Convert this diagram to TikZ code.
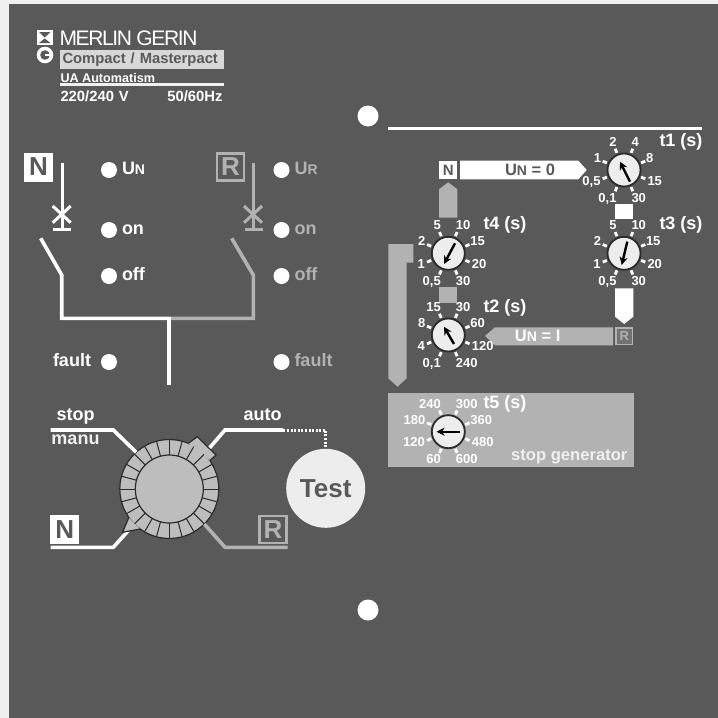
\documentclass[tikz,border=0pt]{standalone}
\usepackage{fontspec}
\setmainfont{Liberation Sans}
\newfontfamily\logofont[LetterSpace=-6.5]{Liberation Sans}
\usetikzlibrary{positioning,arrows.meta,calc}
\definecolor{panel}{HTML}{595959}
\definecolor{margin}{HTML}{F0F0F0}
\definecolor{pale}{HTML}{B2B2B2}
\definecolor{capgrey}{HTML}{BDBDBD}
\definecolor{knobface}{HTML}{EDEDED}
\definecolor{ink}{HTML}{2B2B2B}
\newcommand{\fsz}[1]{\fontsize{#1}{#1}\selectfont\bfseries}
\newcommand{\supply}[1]{U{\fontsize{14}{14}\selectfont #1}}
\tikzset{
    every node/.style={inner sep=0pt,outer sep=0pt,text=white,font=\fsz{13}},
    wire/.style={draw=white,line width=3.6pt},
    wiregrey/.style={draw=pale,line width=3.6pt},
    led/.style={circle,fill=white,minimum size=16pt},
    ledtext/.style={font=\fsz{18},text height=9.5pt,text depth=0pt},
    ledgrey/.style={ledtext,text=pale},
    nbox/.style={fill=white,text=panel,minimum size=29pt,font=\fsz{26}},
    rbox/.style={draw=pale,line width=2.6pt,text=pale,minimum size=27pt,font=\fsz{26}},
    title/.style={font=\fsz{18}},
    dialnum/.style={font=\fsz{13},text height=9pt,text depth=0pt},
    knob/.style={circle,draw=ink,line width=1.8pt,fill=knobface,minimum size=33pt},
    needle/.style={draw=black,line width=2.4pt,-{Stealth[length=8pt,width=8pt]}},
    tick/.style={draw=white,line width=2.8pt},
    flow/.style={fill=pale},
    flowwhite/.style={fill=white}
}
% knob: name, place, needle tail, needle tip
\newcommand{\knobat}[4]{
    \node[knob] (#1) at (#2) {};
    \foreach \a in {22.5,67.5,...,337.5}
        \draw[tick] ($(#1)+(\a:18.5)$) -- ($(#1)+(\a:23)$);
    \draw[needle] ($(#1)+(#3)$) -- ($(#1)+(#4)$);
}
% numbers round a knob, clockwise from upper left
\newcommand{\dialnums}[9]{
    \node[dialnum,anchor=east] (#1-a) at ($(#1)+(-7.5,-28)$) {#2};
    \node[dialnum,anchor=west] (#1-b) at ($(#1)+(7.5,-28)$) {#3};
    \node[dialnum,anchor=west] (#1-c) at ($(#1)+(22,-12)$) {#4};
    \node[dialnum,anchor=west] (#1-d) at ($(#1)+(23.5,10.5)$) {#5};
    \node[dialnum,anchor=west] (#1-e) at ($(#1)+(7.5,27.5)$) {#6};
    \node[dialnum,anchor=east] (#1-f) at ($(#1)+(-7.5,27.5)$) {#7};
    \node[dialnum,anchor=east] (#1-g) at ($(#1)+(-23.5,10.5)$) {#8};
    \node[dialnum,anchor=east] (#1-h) at ($(#1)+(-23,-12)$) {#9};
}
\begin{document}
\begin{tikzpicture}[x=1pt,y=-1pt]
\useasboundingbox (0,0) rectangle (718,718);
\fill[margin] (0,0) rectangle (718,718);
\fill[panel] (9,4) rectangle (718,718);

% maker's mark and heading
\fill[white] (36.5,30) rectangle (53,45);
\fill[panel] (39,32) -- (50.5,32) -- (44.7,37.5) -- cycle;
\fill[panel] (39,43) -- (50.5,43) -- (44.7,38.5) -- cycle;
\fill[white] (45,55) circle (8.3);
\fill[panel] (45,55) circle (4.8);
\fill[white] (45,53.8) rectangle (53,56.2);
\node[anchor=west,font={\logofont\fontsize{21}{21}\selectfont}] (maker) at (59.5,38) {MERLIN GERIN};
\node[anchor=west,fill=margin!90!black,text=panel,font=\fsz{14.8},minimum width=164pt,minimum height=19pt,text width=159pt,align=left] (range) at (60,59.5) {Compact / Masterpact};
\node[anchor=west,font=\fsz{12.6}] (model) at (60.5,77.5) {UA Automatism};
\draw[draw=margin,line width=2.4pt] (60,84.5) -- (224,84.5);
\node[anchor=west,font=\fsz{14.8}] (volts) at (60.5,96.5) {220/240\,\,V};
\node[anchor=east,font=\fsz{14.8}] (hertz) at (222.5,96.5) {50/60Hz};

% fixing holes and rule
\node[circle,fill=white,minimum size=21pt] (holetop) at (368,116) {};
\node[circle,fill=white,minimum size=21pt] (holebot) at (368,610) {};
\coordinate (ruleL) at (388,128);
\coordinate (ruleR) at (702,128);
\draw[draw=white,line width=3pt] (ruleL) -- (ruleR);

% source N
\node[nbox] (srcN) at (38.5,167) {N};
\coordinate (nfeed) at (62,163);
\coordinate (ncut) at (62,223);
\coordinate (nsw) at (40.7,238.3);
\coordinate (bus) at (169,318.3);
\coordinate (load) at (169,385);
\draw[wire,line width=3pt] (nfeed) -- (ncut);
\draw[wire,line width=3pt] (52.7,206) -- (70.7,222.7) (70.7,206) -- (52.7,222.7);
\draw[wire,line width=3pt] (53,229) -- (71,229) (ncut) -- (62,229);
% source R
\node[rbox] (srcR) at (230.5,167) {R};
\coordinate (rfeed) at (253.3,163);
\coordinate (rcut) at (253.3,223);
\coordinate (rsw) at (231.7,238.3);
\draw[wiregrey,line width=3pt] (rfeed) -- (rcut);
\draw[wiregrey,line width=3pt] (244,206) -- (262,222.7) (262,206) -- (244,222.7);
\draw[wiregrey,line width=3pt] (244.5,229) -- (262.5,229) (rcut) -- (253.3,229);
\draw[wiregrey] (rsw) -- (253.3,275) |- (bus);
\draw[wire] (nsw) -- (61.7,275) |- (bus);
\draw[wire] (bus) ++(0,-1.8) -- (load);

% indicator lamps
\node[led] (ledUN) at (109,170) {};
\node[led] (ledonN) at (109,230) {};
\node[led] (ledoffN) at (109,276) {};
\node[led] (ledfaultN) at (109,362) {};
\node[led] (ledUR) at (281.5,170) {};
\node[led] (ledonR) at (281.5,230) {};
\node[led] (ledoffR) at (281.5,276) {};
\node[led] (ledfaultR) at (281.5,362) {};
\node[ledtext,right=5pt of ledUN] (txtUN) {\supply{N}};
\node[ledtext,right=5pt of ledonN] (txtonN) {on};
\node[ledtext,right=5pt of ledoffN] (txtoffN) {off};
\node[ledtext,left=10pt of ledfaultN] (txtfaultN) {fault};
\node[ledgrey,right=5pt of ledUR] (txtUR) {\supply{R}};
\node[ledgrey,right=5pt of ledonR] (txtonR) {on};
\node[ledgrey,right=5pt of ledoffR] (txtoffR) {off};
\node[ledgrey,right=5pt of ledfaultR] (txtfaultR) {fault};

% selector switch
\node[circle,draw=ink,line width=1.2pt,fill=capgrey,minimum size=99pt] (selector) at (169.3,489) {};
\coordinate (stopL) at (50.7,430);
\coordinate (autoR) at (283.3,430);
\coordinate (manuL) at (50.7,547.3);
\coordinate (rearR) at (287.7,547.3);
\draw[wire] (stopL) -- (113.3,430) -- (selector.132);
\draw[wire] (manuL) -- (113.3,547.3) -- (selector.225);
\draw[wire] (autoR) -- (225,430) -- (selector.45);
\draw[wiregrey] (rearR) -- (225,547.3) -- (selector.-45);
\fill[capgrey] ($(selector)+(19,-45.7)$) -- ($(selector)+(28,-52.3)$) -- ($(selector)+(46.7,-34)$) -- ($(selector)+(40.5,-28.5)$) -- cycle;
\draw[ink,line width=1.2pt] ($(selector)+(19,-45.7)$) -- ($(selector)+(28,-52.3)$) -- ($(selector)+(46.7,-34)$) -- ($(selector)+(40.5,-28.5)$);
\fill[capgrey] ($(selector)+(-40.5,28.5)$) -- ($(selector)+(-46.7,43.3)$) -- ($(selector)+(-29.3,40)$) -- cycle;
\draw[ink,line width=1.2pt] ($(selector)+(-40.5,28.5)$) -- ($(selector)+(-46.7,43.3)$) -- ($(selector)+(-29.3,40)$);
\foreach \a in {0,15,...,345}
    \draw[ink,line width=1pt] ($(selector)+(\a:33)$) -- ($(selector)+(\a:49)$);
\node[circle,draw=ink,line width=1.2pt,fill=capgrey,minimum size=68pt] (selectorcap) at (selector) {};
\node[font=\fsz{18},text height=9.5pt,text depth=0pt] (stoplabel) at (75.5,415.5) {stop};
\node[font=\fsz{18},text=margin,text height=9.5pt,text depth=0pt] (manulabel) at (75.5,440) {manu};
\node[font=\fsz{18},text height=9.5pt,text depth=0pt] (autolabel) at (262.5,416) {auto};
\node[nbox] (modeN) at (64.7,529.5) {N};
\node[rbox] (modeR) at (273,529.5) {R};
\node[circle,fill=knobface,text=panel,minimum size=79pt,font=\fsz{26}] (test) at (325.7,488.3) {Test};
\draw[draw=white,line width=3pt,dash pattern=on 2pt off 1.6pt] (autoR) -- (325.7,430) -- (test.north);

% delay flow
\fill[flowwhite] (460,160.7) -- (578.3,160.7) -- (586.7,170) -- (578.3,179.3) -- (460,179.3) -- cycle;
\node[fill=white,text=panel,minimum size=18.5pt,font=\fsz{15}] (flowN) at (448.2,170) {N};
\node[text=panel,font=\fsz{16.5}] (flowUz) at (530,170) {\supply{N} = 0};
\fill[flow] (439,217.7) -- (439,189.3) -- (448.2,182.3) -- (457.3,189.3) -- (457.3,217.7) -- cycle;
\node[fill=white,minimum width=18.3pt,minimum height=15pt] (gapA) at (624.2,211.5) {};
\fill[flowwhite] (615,288.3) -- (633.3,288.3) -- (633.3,316.7) -- (624.2,324) -- (615,316.7) -- cycle;
\node[fill=pale,minimum width=18.3pt,minimum height=15.4pt] (gapB) at (448.2,295) {};
\fill[flow] (613,327.3) -- (495,327.3) -- (485,336) -- (495,345.3) -- (613,345.3) -- cycle;
\node[draw=pale,line width=1.5pt,fill=panel!85!white,text=pale,minimum size=16.5pt,font=\fsz{13}] (flowR) at (624.2,336.2) {R};
\node[text=white,font=\fsz{16.5}] (flowUi) at (537.7,336) {\supply{N} = I};
\fill[flow] (388.3,244) -- (413.3,244) -- (413.3,262.7) -- (406.7,262.7) -- (406.7,378.3) -- (397.5,386.7) -- (388.3,378.3) -- cycle;
\node[anchor=north west,fill=pale,minimum width=246pt,minimum height=74pt] (stopbox) at (388.3,393.3) {};
\node[font=\fsz{16.6},text=margin] (stopgen) at (569.3,456.5) {stop generator};

% delay dials
\knobat{tone}{624,170}{6,11.7}{-4,-8.3}
\dialnums{tone}{2}{4}{8}{15}{30}{0,1}{0,5}{1}
\knobat{tfour}{448.3,253.3}{6.7,-10}{-4.3,10.7}
\dialnums{tfour}{5}{10}{15}{20}{30}{0,5}{1}{2}
\knobat{tthree}{624,253.3}{3.3,-11.7}{-2.3,11.7}
\dialnums{tthree}{5}{10}{15}{20}{30}{0,5}{1}{2}
\knobat{ttwo}{448.3,335}{5.7,9}{-4.3,-8.3}
\dialnums{ttwo}{15}{30}{60}{120}{240}{0,1}{4}{8}
\knobat{tfive}{448.3,431.7}{11.7,0}{-11.7,0}
\dialnums{tfive}{240}{300}{360}{480}{600}{60}{120}{180}
\node[title] (tonelabel) at (681,142) {t1 (s)};
\node[title] (tthreelabel) at (681,225.3) {t3 (s)};
\node[title] (tfourlabel) at (505,225.3) {t4 (s)};
\node[title] (ttwolabel) at (505,308.3) {t2 (s)};
\node[title] (tfivelabel) at (505,404) {t5 (s)};
\end{tikzpicture}
\end{document}
